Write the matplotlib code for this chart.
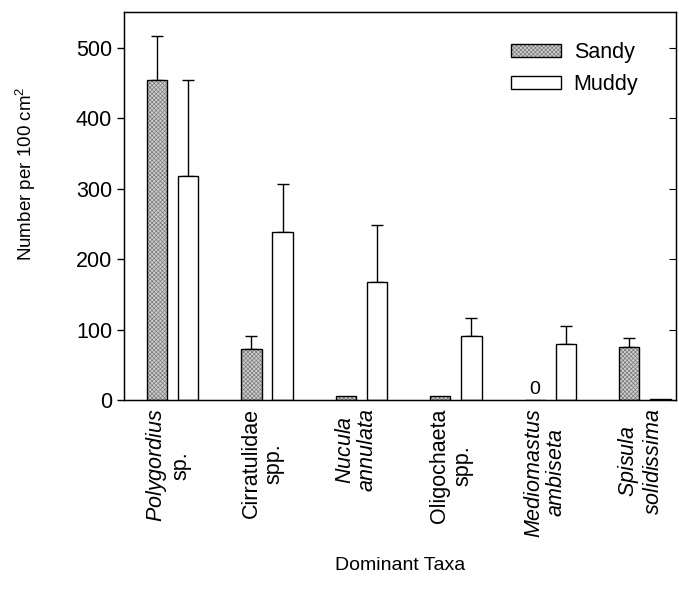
import matplotlib
matplotlib.use("Agg")
import matplotlib.pyplot as plt
from matplotlib.legend_handler import HandlerTuple
from matplotlib.patches import Patch
import numpy as np

plt.rcParams['font.family'] = ['Liberation Sans', 'DejaVu Sans']
plt.rcParams['mathtext.fontset'] = 'custom'
plt.rcParams['mathtext.rm'] = 'Liberation Sans'
plt.rcParams['mathtext.it'] = 'Liberation Sans:italic'
plt.rcParams['hatch.linewidth'] = 0.5

taxa = ["$\\it{Polygordius}$\nsp.", "Cirratulidae\nspp.", "$\\it{Nucula}$\n$\\it{annulata}$",
        "Oligochaeta\nspp.", "$\\it{Mediomastus}$\n$\\it{ambiseta}$", "$\\it{Spisula}$\n$\\it{solidissima}$"]
sandy = [455, 72, 6, 5, 0, 75]
sandy_err = [62, 19, 0, 0, 0, 13]
muddy = [318, 239, 168, 91, 80, 1]
muddy_err = [136, 68, 80, 26, 25, 0]
yticks = [0, 100, 200, 300, 400, 500]

fig = plt.figure(figsize=(6.79, 5.98), dpi=100)
ax = fig.add_axes([124/679, 1-400/598, 552/679, 388/598])

x = np.arange(len(taxa))
w = 0.215
off = 0.165
# sandy: stippled gray fill, then black outline
ax.bar(x - off, sandy, w, color='#cfcfcf', edgecolor='#7a7a7a', linewidth=0,
       hatch='xxxxxxxx', zorder=2)
ax.bar(x - off, sandy, w, fill=False, edgecolor='black', linewidth=1.0, zorder=3)
ax.bar(x + off, muddy, w, color='white', edgecolor='black', linewidth=1.0, zorder=2)
for xi, v, e in zip(x - off, sandy, sandy_err):
    if e > 0:
        ax.errorbar(xi, v, yerr=[[0], [e]], fmt='none', ecolor='black', elinewidth=1.0,
                    capsize=4, capthick=1.0, zorder=1)
for xi, v, e in zip(x + off, muddy, muddy_err):
    if e > 0:
        ax.errorbar(xi, v, yerr=[[0], [e]], fmt='none', ecolor='black', elinewidth=1.0,
                    capsize=4, capthick=1.0, zorder=1)

ax.text(4 - off, 3, "0", ha='center', va='bottom', fontsize=14)

ax.set_xlim(-0.513, 5.33)
ax.set_ylim(0, 551)
ax.set_yticks(yticks)
ax.tick_params(axis='y', labelsize=15.5, direction='out', length=5, width=1)
ax.set_xticks(x - 0.05)
ax.set_xticklabels(taxa, rotation=90, fontsize=15.5, ha='center', va='top',
                   multialignment='center', linespacing=1.1)
ax.tick_params(axis='x', length=0, pad=6)

ax2 = ax.twinx()
ax2.set_ylim(ax.get_ylim())
ax2.set_yticks(yticks)
ax2.tick_params(axis='y', direction='in', length=5, labelright=False)

for s in ax.spines.values():
    s.set_linewidth(1.0)

ax.set_ylabel("Number per 100 cm$^2$", fontsize=13.5, labelpad=27)
ax.yaxis.label.set_y((400 - 174) / 388)
fig.text(400/679, 1-565/598, "Dominant Taxa", ha='center', va='center', fontsize=14)

h_sandy = (Patch(facecolor='#cfcfcf', edgecolor='#7a7a7a', linewidth=0, hatch='xxxxxxxx'),
           Patch(fill=False, edgecolor='black', linewidth=1.0))
h_muddy = Patch(facecolor='white', edgecolor='black', linewidth=1.0)
leg = ax.legend([h_sandy, h_muddy], ['Sandy', 'Muddy'], loc='upper left',
                bbox_to_anchor=(0.682, 0.95), frameon=False, fontsize=15.5, borderpad=0,
                handlelength=2.3, handleheight=0.55, handletextpad=0.6, labelspacing=0.5,
                handler_map={tuple: HandlerTuple(ndivide=1, pad=0)})

fig.savefig("out.png", dpi=100)
